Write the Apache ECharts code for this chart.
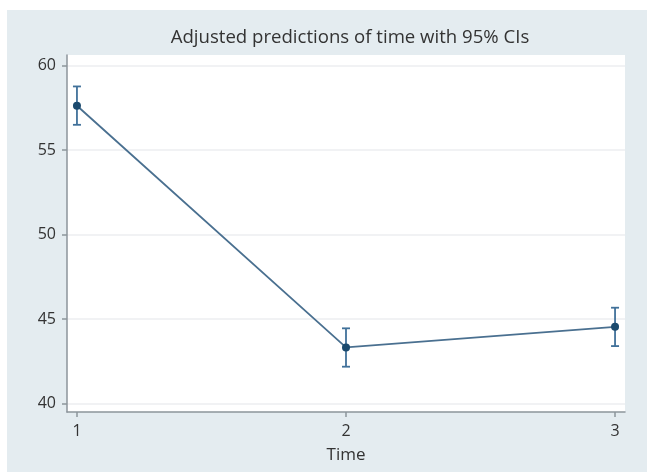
<!DOCTYPE html>
<html>
<head>
<meta charset="utf-8">
<script src="https://cdn.jsdelivr.net/npm/echarts@6/dist/echarts.min.js"></script>
<style>
html,body{margin:0;padding:0;background:#ffffff;}
#bg{position:absolute;left:7px;top:10px;width:640px;height:462px;background:#e4ecf0;}
#chart{position:absolute;left:0;top:0;width:647px;height:472px;}
</style>
</head>
<body>
<div id="bg"></div>
<div id="chart"></div>
<script>
const categories = [1, 2, 3];
const predictions = [57.62, 43.32, 44.54];
const ciLower = [56.49, 42.18, 43.40];
const ciUpper = [58.76, 44.45, 45.67];
const yTicks = [40, 45, 50, 55, 60];
const xTicks = [1, 2, 3];

const chart = echarts.init(document.getElementById('chart'), null, {renderer: 'canvas'});
const font = '"Open Sans", "Noto Sans", sans-serif';
const axisColor = '#8c959b';

const lineData = categories.map((c, i) => [c, predictions[i]]);
const errData = categories.map((c, i) => [c, ciLower[i], ciUpper[i]]);

chart.setOption({
  backgroundColor: 'transparent',
  animation: false,
  title: {
    text: 'Adjusted predictions of time with 95% CIs',
    left: 345, top: 23, textAlign: 'center',
    textStyle: {fontFamily: font, fontSize: 18.6, fontWeight: 'normal', color: '#333333'}
  },
  grid: {left: 67, right: 22, top: 55, bottom: 60, show: true, backgroundColor: '#ffffff', borderWidth: 0},
  xAxis: {
    type: 'value', min: 0.963, max: 3.037,
    name: 'Time', nameLocation: 'middle', nameGap: 35,
    nameTextStyle: {fontFamily: font, fontSize: 17, color: '#333333'},
    axisLine: {show: true, lineStyle: {color: axisColor, width: 1.5}},
    axisTick: {show: true, customValues: xTicks, length: 5, lineStyle: {color: axisColor, width: 1.5}},
    axisLabel: {customValues: xTicks, fontFamily: font, fontSize: 16, color: '#333333', margin: 11},
    splitLine: {show: false}
  },
  yAxis: {
    type: 'value', min: 39.5, max: 60.62,
    axisLine: {show: true, lineStyle: {color: axisColor, width: 1.5}},
    axisTick: {show: true, customValues: yTicks, length: 5, lineStyle: {color: axisColor, width: 1.5}},
    axisLabel: {customValues: yTicks, fontFamily: font, fontSize: 16, color: '#333333', margin: 11},
    splitLine: {show: true, lineStyle: {color: '#eceef0', width: 1.5}}
  },
  series: [
    {
      type: 'custom',
      data: errData,
      z: 3,
      renderItem: function (params, api) {
        const x = api.value(0);
        const lo = api.coord([x, api.value(1)]);
        const hi = api.coord([x, api.value(2)]);
        const w = 4;
        const style = {stroke: '#41719a', lineWidth: 1.8};
        return {
          type: 'group',
          children: [
            {type: 'line', shape: {x1: lo[0], y1: lo[1], x2: hi[0], y2: hi[1]}, style: style},
            {type: 'line', shape: {x1: lo[0] - w, y1: lo[1], x2: lo[0] + w, y2: lo[1]}, style: style},
            {type: 'line', shape: {x1: hi[0] - w, y1: hi[1], x2: hi[0] + w, y2: hi[1]}, style: style}
          ]
        };
      }
    },
    {
      type: 'line',
      data: lineData,
      z: 4,
      symbol: 'circle',
      symbolSize: 8,
      lineStyle: {color: '#4a7090', width: 1.8},
      itemStyle: {color: '#1b4a6e'}
    }
  ]
});
</script>
</body>
</html>
